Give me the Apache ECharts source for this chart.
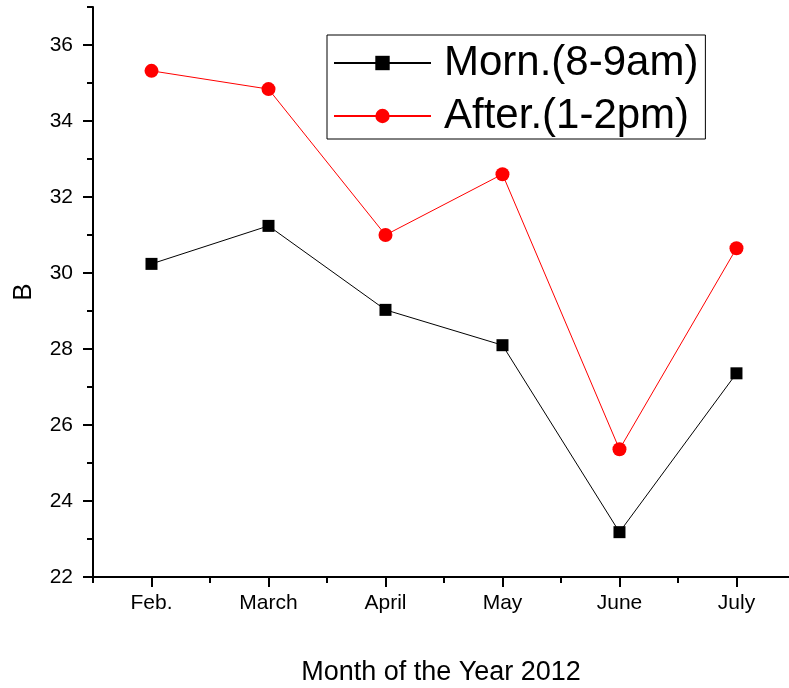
<!DOCTYPE html>
<html>
<head>
<meta charset="utf-8">
<script src="https://cdn.jsdelivr.net/npm/echarts@6/dist/echarts.min.js"></script>
<style>
html,body{margin:0;padding:0;background:#fff;}
#chart{width:789px;height:688px;}
</style>
</head>
<body>
<div id="chart"></div>
<script>
var months = ['Feb.', 'March', 'April', 'May', 'June', 'July'];
var monthPos = [1, 2, 3, 4, 5, 6];
var morning = [30.24, 31.24, 29.03, 28.1, 23.18, 27.36];
var afternoon = [35.32, 34.84, 31.0, 32.6, 25.36, 30.65];
var yMajorTicks = [22, 24, 26, 28, 30, 32, 34, 36];
var yMinorTicks = [23, 25, 27, 29, 31, 33, 35, 37];
var xMinorTicks = [0.5, 1.5, 2.5, 3.5, 4.5, 5.5];
var seriesNames = ['Morn.(8-9am)', 'After.(1-2pm)'];

var FONT = 'Liberation Sans, Arial, sans-serif';
var gridRect = {left: 93, right: 0, top: 7, bottom: 111, containLabel: false, outerBoundsMode: 'none'};
var xMin = 0.5, xMax = 6.449, yMin = 22, yMax = 37;

function pairs(vals) {
  return vals.map(function (v, i) { return [monthPos[i], v]; });
}

var chart = echarts.init(document.getElementById('chart'));
chart.setOption({
  backgroundColor: '#fff',
  animation: false,
  grid: [
    Object.assign({}, gridRect),
    Object.assign({}, gridRect)
  ],
  legend: {
    orient: 'vertical',
    left: 327,
    top: 35,
    padding: [6, 7, 1, 6],
    itemGap: 9,
    itemWidth: 97,
    itemHeight: 18,
    borderColor: '#000',
    borderWidth: 1,
    data: seriesNames,
    textStyle: {
      fontFamily: FONT,
      fontSize: 42,
      color: '#000',
      lineHeight: 44,
      padding: [0, 0, 0, 8]
    }
  },
  xAxis: [{
    type: 'value',
    gridIndex: 0,
    min: xMin,
    max: xMax,
    axisLine: {show: true, lineStyle: {color: '#000', width: 2}},
    axisTick: {show: true, customValues: monthPos, length: 10, lineStyle: {color: '#000', width: 2}},
    axisLabel: {
      customValues: monthPos,
      formatter: function (v) { return months[Math.round(v) - 1]; },
      fontFamily: FONT, fontSize: 21, color: '#000', margin: 16
    },
    splitLine: {show: false},
    name: 'Month of the Year 2012',
    nameLocation: 'middle',
    nameGap: 82,
    nameTextStyle: {fontFamily: FONT, fontSize: 27, color: '#000'}
  }, {
    type: 'value',
    gridIndex: 1,
    min: xMin,
    max: xMax,
    position: 'bottom',
    axisLine: {show: false},
    axisTick: {show: true, customValues: xMinorTicks, length: 6, lineStyle: {color: '#000', width: 2}},
    axisLabel: {show: false},
    splitLine: {show: false}
  }],
  yAxis: [{
    type: 'value',
    gridIndex: 0,
    min: yMin,
    max: yMax,
    axisLine: {show: true, lineStyle: {color: '#000', width: 2}},
    axisTick: {show: true, customValues: yMajorTicks, length: 10, lineStyle: {color: '#000', width: 2}},
    axisLabel: {customValues: yMajorTicks, fontFamily: FONT, fontSize: 21, color: '#000', margin: 20},
    splitLine: {show: false},
    name: 'B',
    nameLocation: 'middle',
    nameGap: 56,
    nameRotate: 90,
    nameTextStyle: {fontFamily: FONT, fontSize: 26, color: '#000'}
  }, {
    type: 'value',
    gridIndex: 1,
    min: yMin,
    max: yMax,
    position: 'left',
    axisLine: {show: false},
    axisTick: {show: true, customValues: yMinorTicks, length: 6, lineStyle: {color: '#000', width: 2}},
    axisLabel: {show: false},
    splitLine: {show: false}
  }],
  series: [{
    name: seriesNames[0],
    type: 'line',
    xAxisIndex: 0,
    yAxisIndex: 0,
    data: pairs(morning),
    symbol: 'rect',
    symbolSize: 12,
    itemStyle: {color: '#000'},
    lineStyle: {color: '#000', width: 1}
  }, {
    name: seriesNames[1],
    type: 'line',
    xAxisIndex: 0,
    yAxisIndex: 0,
    data: pairs(afternoon),
    symbol: 'circle',
    symbolSize: 14,
    itemStyle: {color: '#ff0000'},
    lineStyle: {color: '#ff0000', width: 1}
  }]
});
</script>
</body>
</html>
